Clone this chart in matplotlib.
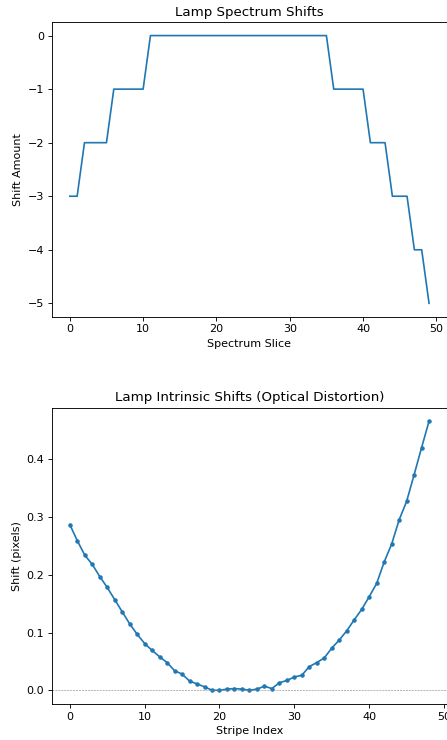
import numpy as np
import matplotlib
matplotlib.use("Agg")
import matplotlib.pyplot as plt

# Lamp spectrum shifts per slice (integer steps)
spectrum_shift = [-3, -3, -2, -2, -2, -2, -1, -1, -1, -1, -1,
                  0, 0, 0, 0, 0, 0, 0, 0, 0, 0, 0, 0, 0, 0, 0,
                  0, 0, 0, 0, 0, 0, 0, 0, 0, 0,
                  -1, -1, -1, -1, -1, -2, -2, -2, -3, -3, -3, -4, -4, -5]

# Intrinsic shifts per stripe (pixels)
intrinsic_shift = [0.287, 0.259, 0.234, 0.218, 0.197, 0.178, 0.157, 0.136, 0.115, 0.097,
                   0.081, 0.069, 0.058, 0.048, 0.034, 0.028, 0.016, 0.011, 0.006, 0.000,
                   0.000, 0.002, 0.003, 0.002, 0.000, 0.002, 0.007, 0.003, 0.013, 0.017,
                   0.023, 0.026, 0.041, 0.048, 0.056, 0.073, 0.087, 0.103, 0.122, 0.140,
                   0.162, 0.185, 0.222, 0.253, 0.295, 0.327, 0.373, 0.420, 0.466]

# Rendered at 80 dpi so text and lines come out at the reference's scale
fig = plt.figure(figsize=(447 / 80, 740 / 80), dpi=80)

# Top panel
ax1 = fig.add_axes([0.116, 0.572, 0.884, 0.398])
ax1.plot(np.arange(len(spectrum_shift)), spectrum_shift)
ax1.set_title("Lamp Spectrum Shifts")
ax1.set_xlabel("Spectrum Slice")
ax1.set_ylabel("Shift Amount")

# Bottom panel
ax2 = fig.add_axes([0.116, 0.049, 0.884, 0.400])
ax2.plot(np.arange(len(intrinsic_shift)), intrinsic_shift, marker='.')
ax2.axhline(0, color='gray', linestyle='--', linewidth=0.5)
ax2.set_title("Lamp Intrinsic Shifts (Optical Distortion)")
ax2.set_xlabel("Stripe Index")
ax2.set_ylabel("Shift (pixels)")

fig.savefig("out.png", dpi=80)
